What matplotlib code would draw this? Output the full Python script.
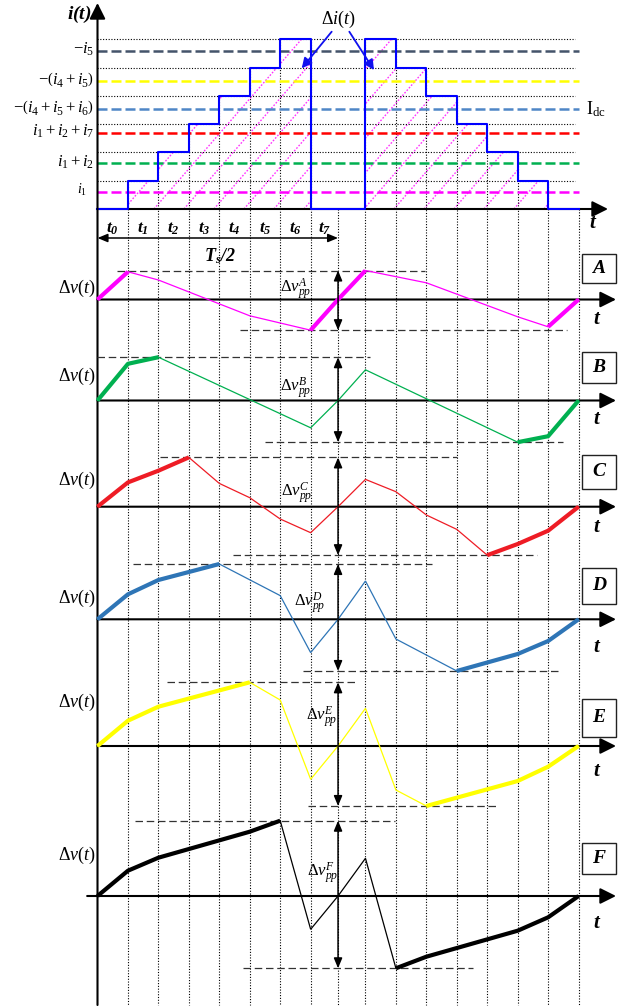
import matplotlib
matplotlib.use('Agg')
import matplotlib.pyplot as plt
from matplotlib.patches import Polygon, Rectangle

plt.rcParams['font.family'] = ['Liberation Serif', 'DejaVu Serif']
plt.rcParams['mathtext.fontset'] = 'custom'
plt.rcParams['mathtext.rm'] = 'Liberation Serif'
plt.rcParams['mathtext.it'] = 'Liberation Serif:italic'
plt.rcParams['mathtext.bf'] = 'Liberation Serif:italic:bold'

# ---------------- data ----------------
grid_t = [0, 1, 2, 3, 4, 5, 6, 7, 7.9, 8.8, 9.8, 10.8, 11.8, 12.8, 13.8, 14.8, 15.8]
half_period = 7.9
interval_labels = [r'$\mathbf{t_%d}$' % k for k in range(8)]

stair_edges = [0, 1, 2, 3, 4, 5, 6, 7, 8.8, 9.8, 10.8, 11.8, 12.8, 13.8, 14.8, 15.8]
stair_levels = [0, 1, 2, 3, 4, 5, 6, 0, 6, 5, 4, 3, 2, 1, 0]

idc_labels = [r'$-i_5$', r'$-\left(i_4+i_5\right)$', r'$-\left(i_4+i_5+i_6\right)$',
              r'$i_1+i_2+i_7$', r'$i_1+i_2$', r'$i_1$']
idc_levels = [5.58, 4.53, 3.53, 2.70, 1.61, 0.61]
idc_colors = ['#44546a', '#ffff00', '#4f86c6', '#ff0000', '#00b050', '#ff00ff']

case_names = ['A', 'B', 'C', 'D', 'E', 'F']
case_colors = ['#ff00ff', '#00b050', '#ee1c25', '#2e75b6', '#ffff00', '#000000']

tA = [0, 1, 2, 5, 7, 7.9, 8.8, 10.8, 13.8, 14.8, 15.8]
vA = [0, 27.7, 19.5, -16.3, -30.7, 0, 29.0, 16.7, -17.3, -27.3, 0]
thickA = [(0, 1), (7, 8.8), (14.8, 15.8)]

tB = [0, 1, 2, 7, 7.9, 8.8, 13.8, 14.8, 15.8]
vB = [0, 36.7, 43.3, -27.3, 0, 30.7, -41.7, -35.7, 0]
thickB = [(0, 2), (13.8, 15.8)]

tC = [0, 1, 2, 3, 4, 5, 6, 7, 7.9, 8.8, 9.8, 10.8, 11.8, 12.8, 13.8, 14.8, 15.8]
vC = [0, 24.3, 36.0, 49.3, 23.3, 9.0, -12.3, -26.0, 0, 27.3, 15.0, -8.3, -22.7, -48.5, -37.3, -24.0, 0]
thickC = [(0, 3), (12.8, 15.8)]

tD = [0, 1, 2, 4, 6, 7, 7.9, 8.8, 9.8, 11.8, 13.8, 14.8, 15.8]
vD = [0, 25.0, 39.3, 55.3, 23.7, -33.3, 0, 38.3, -19.7, -51.7, -34.7, -21.7, 0]
thickD = [(0, 4), (11.8, 15.8)]

tE = [0, 1, 2, 5, 6, 7, 7.9, 8.8, 9.8, 10.8, 13.8, 14.8, 15.8]
vE = [0, 25.3, 39.3, 63.7, 46.0, -33.3, 0, 37.7, -44.0, -60.0, -35.0, -20.7, 0]
thickE = [(0, 5), (10.8, 15.8)]

tF = [0, 1, 2, 5, 6, 7, 7.9, 8.8, 9.8, 10.8, 13.8, 14.8, 15.8]
vF = [0, 25.3, 38.3, 64.3, 75.3, -33.3, 0, 37.7, -72.3, -60.7, -34.7, -21.3, 0]
thickF = [(0, 6), (9.8, 15.8)]

case_t = [tA, tB, tC, tD, tE, tF]
case_v = [vA, vB, vC, vD, vE, vF]
case_thick = [thickA, thickB, thickC, thickD, thickE, thickF]

# ---------------- layout ----------------
W, H = 627, 1007
X0_PX, PX_PER_T = 97.5, 30.45
XLIM = (-X0_PX / PX_PER_T, (W - X0_PX) / PX_PER_T)
TOP_BASE, TOP_SCALE = 209.0, 28.3
BOTTOM_PX = 1005.0

case_base = [299.5, 400.5, 506.7, 619.3, 746.0, 896.0]
max_dash_x = [(0.63, 10.76), (-0.03, 8.95), (2.05, 11.8), (1.17, 10.98), (2.28, 8.55), (1.23, 9.77)]
min_dash_x = [(4.68, 15.41), (5.5, 15.29), (4.45, 14.42), (6.75, 15.19), (6.91, 13.11), (4.78, 12.33)]
box_y = [(16.5, 45.5), (17.5, 48.5), (17.7, 51.7), (15.3, 51.3), (9.0, 47.0), (22.0, 53.0)]
dv_label_y = [11.5, 24.5, 26.7, 21.3, 44.0, 41.0]
pp_label_pos = [(6.52, 10.5), (6.52, 12.5), (6.55, 13.7), (6.98, 16.3), (7.37, 29.0), (7.4, 23.0)]
t_label_y = [-20.5, -19.5, -20.3, -28.7, -26.0, -27.0]
axis_start = [0, 0, 0, 0, 0, -0.34]
AX_TIP = (616 - X0_PX) / PX_PER_T

fig = plt.figure(figsize=(W / 100, H / 100), dpi=100)


def make_axes(top_px, bot_px, base_px, scale):
    ax = fig.add_axes([0, 1 - bot_px / H, 1, (bot_px - top_px) / H])
    ax.set_xlim(XLIM)
    ax.set_ylim((base_px - bot_px) / scale, (base_px - top_px) / scale)
    ax.axis('off')
    ax.patch.set_alpha(0)
    return ax


def px2L(py):
    return (TOP_BASE - py) / TOP_SCALE


ax0 = make_axes(0, 270, TOP_BASE, TOP_SCALE)

dot_style = dict(color='black', lw=0.8, ls=(0, (1, 1.5)), clip_on=False)

# staircase polygon (for hatching)
poly_pts = [(stair_edges[0], 0)]
for k, lv in enumerate(stair_levels):
    poly_pts.append((stair_edges[k], lv))
    poly_pts.append((stair_edges[k + 1], lv))
poly_pts.append((stair_edges[-1], 0))
clip_poly = Polygon(poly_pts, closed=True, facecolor='none', edgecolor='none')
ax0.add_patch(clip_poly)

# diagonal magenta hatching
slope = 1.15 * PX_PER_T / TOP_SCALE  # level units per time unit
ts = -8.0
while ts < 16.5:
    ln, = ax0.plot([ts, ts + 7.5 / slope], [0, 7.5], color='#ff33ff', lw=1.0,
                   ls=(0, (1.2, 1.2)), zorder=1)
    ln.set_clip_path(clip_poly)
    ts += 30.0 / PX_PER_T

# horizontal dotted lines at step levels
for lv in range(1, 7):
    ax0.plot([0, 15.68], [lv, lv], **dot_style, zorder=1)

# vertical dotted grid lines from staircase top to bottom
def stair_top(t):
    best = 0
    for k, lv in enumerate(stair_levels):
        if stair_edges[k] - 1e-6 <= t <= stair_edges[k + 1] + 1e-6:
            best = max(best, lv)
    return best

for g in grid_t[1:]:
    ax0.plot([g, g], [stair_top(g), px2L(BOTTOM_PX)], **dot_style, zorder=1)

# Idc dashed levels
for lab, lv, col in zip(idc_labels, idc_levels, idc_colors):
    ax0.plot([0, 15.8], [lv, lv], color=col, lw=1.8, ls=(0, (4, 1.6)), zorder=2, clip_on=False)
    fs = 10 if lab == r'$i_1$' else 12
    xr = (87 - X0_PX) / PX_PER_T if lab == r'$i_1$' else (94 - X0_PX) / PX_PER_T
    ax0.text(xr, lv + 0.05, lab, ha='right', va='center', fontsize=fs)
ax0.text((586 - X0_PX) / PX_PER_T, idc_levels[2], r'$\mathrm{I_{dc}}$', ha='left',
         va='center', fontsize=13)

# staircase
sx, sy = [], []
for k, lv in enumerate(stair_levels):
    sx += [stair_edges[k], stair_edges[k + 1]]
    sy += [lv, lv]
ax0.plot(sx, sy, color='#0000ff', lw=1.5, zorder=4, clip_on=False)

# axes of top panel
arrow_k = dict(arrowstyle='-|>,head_length=0.6,head_width=0.3', color='black', lw=1.5,
               shrinkA=0, shrinkB=0, mutation_scale=16)
ax0.annotate('', xy=((608 - X0_PX) / PX_PER_T, 0), xytext=(0, 0), arrowprops=arrow_k,
             annotation_clip=False, zorder=3)
ax0.annotate('', xy=(0, px2L(3)), xytext=(0, px2L(BOTTOM_PX)), arrowprops=arrow_k,
             annotation_clip=False, zorder=5)
ax0.text((79 - X0_PX) / PX_PER_T, px2L(14), r'$\mathbf{i(t)}$', ha='center', va='center',
         fontsize=14)
ax0.text((593 - X0_PX) / PX_PER_T, px2L(223), r'$\mathbf{t}$', ha='center', va='center',
         fontsize=15)

# interval labels
for k, lab in enumerate(interval_labels):
    ax0.text((grid_t[k] + grid_t[k + 1]) / 2, px2L(229), lab, ha='center', va='center',
             fontsize=12.5)

# Ts/2 arrow
dbl = dict(arrowstyle='<|-|>,head_length=0.6,head_width=0.25', color='black', lw=1.1,
           shrinkA=0, shrinkB=0, mutation_scale=10)
ax0.annotate('', xy=(0, px2L(238)), xytext=(half_period, px2L(238)), arrowprops=dbl,
             annotation_clip=False)
ax0.text(4.02, px2L(256), r'$\mathbf{T_s/2}$', ha='center', va='center', fontsize=13)

# Delta i(t) annotation
ax0.text((338 - X0_PX) / PX_PER_T, px2L(19), r'$\Delta i(t)$', ha='center', va='center',
         fontsize=13)
blue_arrow = dict(arrowstyle='-|>,head_length=0.6,head_width=0.3', color='#1010ee', lw=1.3,
                  shrinkA=0, shrinkB=0, mutation_scale=10)
ax0.annotate('', xy=(6.706, 4.97), xytext=(7.69, 6.265), arrowprops=blue_arrow,
             annotation_clip=False, zorder=6)
ax0.annotate('', xy=(9.08, 4.91), xytext=(8.27, 6.265), arrowprops=blue_arrow,
             annotation_clip=False, zorder=6)

# ---------------- voltage ripple panels ----------------
for k in range(6):
    base = case_base[k]
    ax = make_axes(base - 110, base + 110, base, 1.0)
    t, v, col = case_t[k], case_v[k], case_colors[k]
    # t axis
    ax.annotate('', xy=(AX_TIP, 0), xytext=(axis_start[k], 0), arrowprops=arrow_k,
                annotation_clip=False, zorder=3)
    # waveform
    ax.plot(t, v, color=col, lw=0.9, zorder=4, clip_on=False, solid_joinstyle='miter')
    for (a, b) in case_thick[k]:
        seg_t = [tt for tt in t if a - 1e-6 <= tt <= b + 1e-6]
        seg_v = [vv for tt, vv in zip(t, v) if a - 1e-6 <= tt <= b + 1e-6]
        ax.plot(seg_t, seg_v, color=col, lw=3.0, zorder=5, clip_on=False,
                solid_capstyle='butt')
    vmax, vmin = max(v), min(v)
    ax.plot(max_dash_x[k], [vmax, vmax], color='#333333', lw=0.9, ls=(0, (6, 3)),
            zorder=2, clip_on=False)
    ax.plot(min_dash_x[k], [vmin, vmin], color='#333333', lw=0.9, ls=(0, (6, 3)),
            zorder=2, clip_on=False)
    ax.annotate('', xy=(half_period, vmax), xytext=(half_period, vmin), arrowprops=dbl,
                annotation_clip=False, zorder=6)
    ax.text(pp_label_pos[k][0], pp_label_pos[k][1], r'$\Delta v_{pp}^{%s}$' % case_names[k],
            ha='center', va='center', fontsize=12)
    ax.text((96 - X0_PX) / PX_PER_T, dv_label_y[k], r'$\Delta v(t)$', ha='right',
            va='center', fontsize=13)
    ax.text((597 - X0_PX) / PX_PER_T, t_label_y[k], r'$\mathbf{t}$', ha='center',
            va='center', fontsize=15)
    bx0 = (582 - X0_PX) / PX_PER_T
    bx1 = (616 - X0_PX) / PX_PER_T
    y0, y1 = box_y[k]
    ax.add_patch(Rectangle((bx0, y0), bx1 - bx0, y1 - y0, facecolor='white',
                           edgecolor='#222222', lw=1.0, clip_on=False, zorder=7))
    ax.text((bx0 + bx1) / 2, (y0 + y1) / 2, case_names[k], ha='center', va='center',
            fontsize=14, fontweight='bold', fontstyle='italic', zorder=8)

fig.savefig('out.png', dpi=100)
